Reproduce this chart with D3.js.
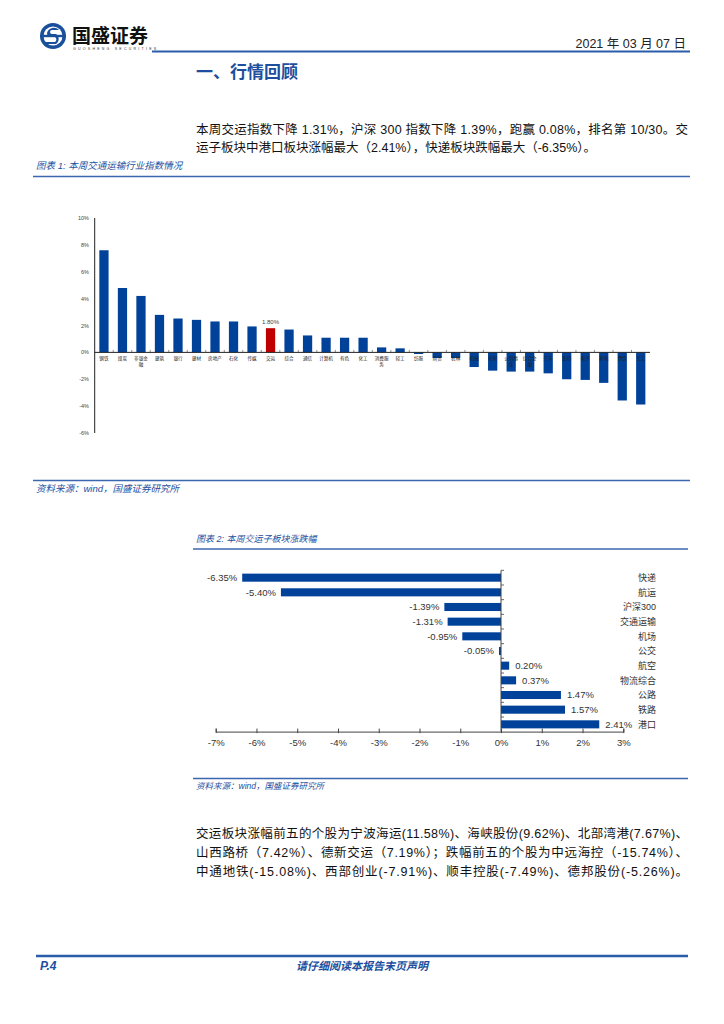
<!DOCTYPE html>
<html><head><meta charset="utf-8">
<script src="https://cdn.jsdelivr.net/npm/d3@7"></script>
<style>
html,body{margin:0;padding:0;background:#fff;}
svg{display:block;}
text{font-family:"Liberation Sans","Noto Sans CJK SC",sans-serif;}
</style></head>
<body>
<svg id="page" width="724" height="1024"></svg>
<script>
// ---------- data ----------
const industries = ["钢铁","煤炭","非银金融","建筑","银行","建材","房地产","石化","传媒","交运",
  "综合","通信","计算机","有色","化工","消费服务","轻工","纺服","商贸","农林",
  "机械","电新","公用事业","综合金融","汽车","医药","电子","家电","食饮","军工"];
const industryChanges = [7.60,4.79,4.20,2.79,2.52,2.42,2.30,2.30,1.93,1.80,
  1.70,1.26,1.09,1.09,1.09,0.37,0.30,-0.12,-0.42,-0.42,
  -1.09,-1.36,-1.43,-1.43,-1.56,-2.00,-2.05,-2.27,-3.58,-3.88];
const highlightIndustry = "交运";
const yTicks1 = [-6,-4,-2,0,2,4,6,8,10];

const subsectors = ["快递","航运","沪深300","交通运输","机场","公交","航空","物流综合","公路","铁路","港口"];
const subsectorChanges = [-6.35,-5.40,-1.39,-1.31,-0.95,-0.05,0.20,0.37,1.47,1.57,2.41];
const xTicks2 = [-7,-6,-5,-4,-3,-2,-1,0,1,2,3];

const para1 = ["本周交运指数下降 1.31%，沪深 300 指数下降 1.39%，跑赢 0.08%，排名第 10/30。交",
  "运子板块中港口板块涨幅最大（2.41%），快递板块跌幅最大（-6.35%）。"];
const para2 = ["交运板块涨幅前五的个股为宁波海运(11.58%)、海峡股份(9.62%)、北部湾港(7.67%)、",
  "山西路桥（7.42%）、德新交运（7.19%）；跌幅前五的个股为中远海控（-15.74%）、",
  "中通地铁(-15.08%)、西部创业(-7.91%)、顺丰控股(-7.49%)、德邦股份(-5.26%)。"];

// ---------- styles ----------
const BLUE = "#1d4f9e", LINE = "#3b66b0", BAR = "#00419a", RED = "#c00000";
const svg = d3.select("#page");

// ---------- header ----------
const logo = svg.append("g").attr("transform","translate(53,36)");
logo.append("circle").attr("r",13).attr("fill","#1a4f9c");
logo.append("circle").attr("r",9.5).attr("fill","#fff");
logo.append("path").attr("d","M6,-6 A7,7 0 0 0 -6,-3 A4,4 0 0 0 -2,1 L2,1 A3,3 0 0 1 2,6 L-7,6 L-7,8 L3,8 A6,6 0 0 0 3,-2 L-1,-2 A2,2 0 0 1 -1,-6 Z")
  .attr("fill","#1a4f9c");
logo.append("rect").attr("x",-13).attr("y",-1.2).attr("width",26).attr("height",2.4).attr("fill","#1a4f9c");
svg.append("text").attr("x",72).attr("y",43).attr("font-size",19).attr("font-weight","bold")
  .attr("font-family","Noto Sans CJK SC").attr("fill","#111").text("国盛证券");
svg.append("text").attr("x",73).attr("y",50).attr("font-size",3.6).attr("letter-spacing",2.2)
  .attr("fill","#333").text("GUOSHENG SECURITIES");
svg.append("text").attr("x",686).attr("y",48).attr("text-anchor","end").attr("font-size",12.5)
  .attr("fill","#222").text("2021 年 03 月 07 日");
svg.append("line").attr("x1",152).attr("x2",690).attr("y1",51.5).attr("y2",51.5)
  .attr("stroke","#2a5caa").attr("stroke-width",2);

svg.append("text").attr("x",196).attr("y",78).attr("font-size",17).attr("font-weight","bold")
  .attr("font-family","Noto Sans CJK SC").attr("fill",BLUE).text("一、行情回顾");

// paragraph 1
para1.forEach((t,i)=>{
  const tx = svg.append("text").attr("x",196).attr("y",134+i*18).attr("font-size",12.5).attr("fill","#111").text(t);
  if(i===0) tx.attr("textLength",492).attr("lengthAdjust","spacing");
});

// caption helper
function caption(x,y,txt,x1,x2,ly,size){
  svg.append("text").attr("x",x).attr("y",y).attr("font-size",size).attr("font-style","italic")
    .attr("fill",BLUE).text(txt);
  svg.append("line").attr("x1",x1).attr("x2",x2).attr("y1",ly).attr("y2",ly)
    .attr("stroke",LINE).attr("stroke-width",1.5);
}
caption(36,169,"图表 1:  本周交通运输行业指数情况",33,690,176.5,9.5);

// ---------- chart 1 ----------
const x1 = d3.scaleBand().domain(industries).range([94.7,650]).paddingInner(0.5).paddingOuter(0.25);
const y1 = d3.scaleLinear().domain([-6,10]).range([433,218]);
const c1 = svg.append("g");
c1.selectAll("rect.b").data(industries).join("rect")
  .attr("x",d=>x1(d)).attr("width",x1.bandwidth())
  .attr("y",(d,i)=>y1(Math.max(0,industryChanges[i])))
  .attr("height",(d,i)=>Math.abs(y1(industryChanges[i])-y1(0)))
  .attr("fill",d=>d===highlightIndustry?RED:BAR);
// axes
c1.append("line").attr("x1",94.7).attr("x2",94.7).attr("y1",y1(10)).attr("y2",y1(-6)).attr("stroke","#222").attr("stroke-width",1);
c1.append("line").attr("x1",94.7).attr("x2",650).attr("y1",y1(0)).attr("y2",y1(0)).attr("stroke","#222").attr("stroke-width",1);
const step1 = x1.step();
industries.forEach((d,i)=>{
  if(i===0) return;
  const bx = x1(d) - (step1 - x1.bandwidth())/2;
  c1.append("line").attr("x1",bx).attr("x2",bx).attr("y1",y1(0)).attr("y2",y1(0)-2.5).attr("stroke","#444").attr("stroke-width",0.6);
});
c1.selectAll("text.yt").data(yTicks1).join("text")
  .attr("x",89).attr("y",d=>y1(d)+2).attr("text-anchor","end").attr("font-size",5.5).attr("fill","#444")
  .text(d=>d+"%");
// category labels (wrap after 3 chars)
industries.forEach((d,i)=>{
  const cx = x1(d)+x1.bandwidth()/2;
  const lines = d.length>3 ? [d.slice(0,3), d.slice(3)] : [d];
  const t = c1.append("text").attr("x",cx).attr("y",y1(0)+8).attr("text-anchor","middle")
    .attr("font-size",4.6).attr("fill","#222").attr("font-family","Noto Sans CJK SC");
  lines.forEach((l,j)=>t.append("tspan").attr("x",cx).attr("dy",j?6:0).text(l));
});
const hi = industries.indexOf(highlightIndustry);
c1.append("text").attr("x",x1(highlightIndustry)+x1.bandwidth()/2).attr("y",y1(industryChanges[hi])-4)
  .attr("text-anchor","middle").attr("font-size",6).attr("fill","#444")
  .text(industryChanges[hi].toFixed(2)+"%");

// source 1
svg.append("line").attr("x1",33).attr("x2",690).attr("y1",480.5).attr("y2",480.5).attr("stroke",LINE).attr("stroke-width",1.5);
svg.append("text").attr("x",36).attr("y",492).attr("font-size",9.5).attr("font-style","italic").attr("fill",BLUE)
  .text("资料来源：wind，国盛证券研究所");

// ---------- chart 2 ----------
caption(196,542,"图表 2:  本周交运子板块涨跌幅",193,688,549,9);
const x2 = d3.scaleLinear().domain([-7,3]).range([215.7,623.3]);
const y2 = d3.scaleBand().domain(subsectors).range([570.4,731.6]).paddingInner(0.45).paddingOuter(0.22);
const c2 = svg.append("g");
c2.selectAll("rect").data(subsectors).join("rect")
  .attr("x",(d,i)=>x2(Math.min(0,subsectorChanges[i])))
  .attr("width",(d,i)=>Math.abs(x2(subsectorChanges[i])-x2(0)))
  .attr("y",d=>y2(d)).attr("height",y2.bandwidth()).attr("fill",BAR);
c2.selectAll("text.v").data(subsectors).join("text")
  .attr("x",(d,i)=>subsectorChanges[i]<0 ? x2(subsectorChanges[i])-5 : x2(subsectorChanges[i])+6)
  .attr("y",d=>y2(d)+y2.bandwidth()/2+3.3)
  .attr("text-anchor",(d,i)=>subsectorChanges[i]<0?"end":"start")
  .attr("font-size",9.5).attr("fill","#333")
  .text((d,i)=>subsectorChanges[i].toFixed(2)+"%");
c2.selectAll("text.c").data(subsectors).join("text")
  .attr("x",656).attr("y",d=>y2(d)+y2.bandwidth()/2+3.3).attr("text-anchor","end")
  .attr("font-size",9).attr("fill","#333").text(d=>d);
// axes
const ax2 = c2.append("g").attr("transform","translate(0,731.6)")
  .call(d3.axisBottom(x2).tickValues(xTicks2).tickFormat(d=>d+"%").tickSize(-3).tickPadding(8));
ax2.select(".domain").attr("stroke","#444");
ax2.selectAll(".tick line").attr("stroke","#444").attr("y2",-3).attr("y1",1.5);
ax2.selectAll(".tick text").attr("font-size",9.5).attr("fill","#333").attr("font-family","Liberation Sans");
c2.append("line").attr("x1",x2(0)).attr("x2",x2(0)).attr("y1",570.4).attr("y2",731.6).attr("stroke","#444");
const step2 = y2.step();
subsectors.forEach(d=>{
  const by = y2(d) - (step2 - y2.bandwidth())/2;
  c2.append("line").attr("x1",x2(0)).attr("x2",x2(0)+3).attr("y1",by).attr("y2",by).attr("stroke","#444").attr("stroke-width",0.8);
});

// source 2
svg.append("line").attr("x1",193).attr("x2",688).attr("y1",778.5).attr("y2",778.5).attr("stroke",LINE).attr("stroke-width",1.5);
svg.append("text").attr("x",196).attr("y",789).attr("font-size",8.5).attr("font-style","italic").attr("fill",BLUE)
  .text("资料来源：wind，国盛证券研究所");

// paragraph 2
para2.forEach((t,i)=>{
  svg.append("text").attr("x",196).attr("y",838+i*19).attr("font-size",12.5).attr("fill","#111")
    .attr("textLength",492).attr("lengthAdjust","spacing").text(t);
});

// ---------- footer ----------
svg.append("line").attr("x1",36).attr("x2",688).attr("y1",956).attr("y2",956).attr("stroke","#2a5caa").attr("stroke-width",2.5);
svg.append("text").attr("x",40).attr("y",970).attr("font-size",12).attr("font-weight","bold").attr("font-style","italic")
  .attr("fill",BLUE).text("P.4");
svg.append("text").attr("x",362).attr("y",970).attr("text-anchor","middle").attr("font-size",11).attr("font-weight","bold")
  .attr("font-style","italic").attr("fill",BLUE).attr("font-family","Noto Sans CJK SC").text("请仔细阅读本报告末页声明");
</script>
</body></html>
